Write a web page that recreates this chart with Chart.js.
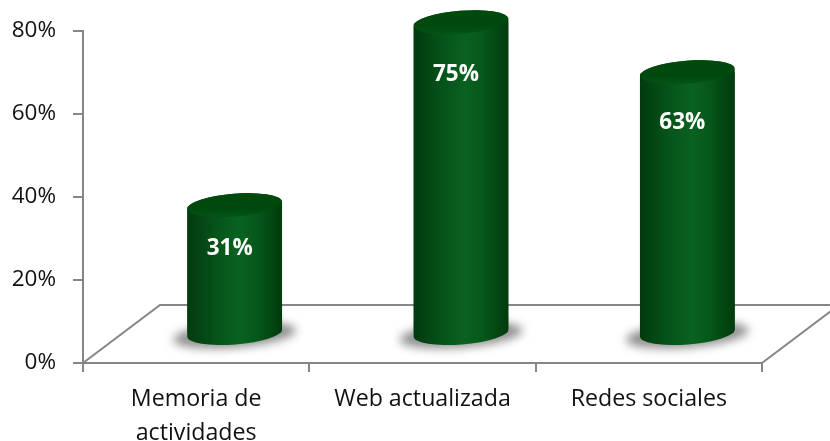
<!DOCTYPE html>
<html><head><meta charset="utf-8">
<style>html,body{margin:0;padding:0;background:#fff}#w{position:absolute;left:0;top:0;width:830px;height:441px}</style>
<script src="https://cdn.jsdelivr.net/npm/chart.js@4"></script></head>
<body><div id="w"><canvas id="c" width="830" height="441"></canvas></div>
<script>
const categories = [["Memoria de","actividades"],"Web actualizada","Redes sociales"];
const values = [31,75,63];
const yTicks = [0,20,40,60,80];
const depthX = 77, depthY = 58;
const axisColor = "#868686";
const fontFamily = "'Open Sans', sans-serif";
const barShare = 0.42;

function sideGradient(ctx, x0, x1){
  const g = ctx.createLinearGradient(x0,0,x1,0);
  g.addColorStop(0,"#013a0e"); g.addColorStop(0.3,"#06531a");
  g.addColorStop(0.55,"#09621f"); g.addColorStop(0.75,"#06561a");
  g.addColorStop(1,"#003a0d");
  return g;
}
const tilt = -4.5*Math.PI/180, ry = 11.5;
function bodyPath(ctx,el){
  const rx=el.width/2;
  ctx.moveTo(el.x-rx*Math.cos(tilt),el.base-rx*Math.sin(tilt));
  ctx.ellipse(el.x,el.base,rx,ry,tilt,Math.PI,0,true);
  ctx.ellipse(el.x,el.y,rx,ry,tilt,0,Math.PI,true);
  ctx.closePath();
}
const cylinder3d = {
  id:"cylinder3d",
  beforeDatasetsDraw(chart){
    const {ctx,scales:{x}} = chart;
    const b=x.top, l=x.left, r=x.right, W=chart.width;
    ctx.save();
    ctx.strokeStyle=axisColor; ctx.lineWidth=2;
    ctx.beginPath();
    ctx.moveTo(l,b); ctx.lineTo(l+depthX,b-depthY); ctx.lineTo(W,b-depthY);
    ctx.moveTo(r,b); ctx.lineTo(r+depthX,b-depthY);
    ctx.stroke();
    ctx.restore();
  },
  beforeDatasetDraw(chart,args){
    const {ctx} = chart;
    const meta = chart.getDatasetMeta(args.index);
    ctx.save();
    ctx.translate(depthX/2,-depthY/2);
    meta.data.forEach(el=>{
      const rx=el.width/2;
      ctx.save();
      ctx.filter="blur(5px)";
      ctx.fillStyle="#8f8f8f";
      ctx.beginPath(); ctx.ellipse(el.x,el.base+2,rx+14,ry+1,tilt,0,Math.PI*2); ctx.fill();
      ctx.restore();
      ctx.fillStyle=sideGradient(ctx,el.x-rx,el.x+rx);
      ctx.beginPath(); bodyPath(ctx,el); ctx.fill();
    });
    ctx.restore();
    ctx.save();
    ctx.translate(depthX/2,-depthY/2);
    ctx.beginPath();
    meta.data.forEach(el=>bodyPath(ctx,el));
    ctx.clip();
  },
  afterDatasetDraw(chart,args){
    const {ctx} = chart;
    ctx.restore();
    const meta = chart.getDatasetMeta(args.index);
    ctx.save();
    ctx.translate(depthX/2,-depthY/2);
    meta.data.forEach((el,i)=>{
      const rx=el.width/2;
      const g=ctx.createLinearGradient(0,el.y-ry,0,el.y+ry);
      g.addColorStop(0,"#004a0d"); g.addColorStop(0.6,"#00480d"); g.addColorStop(1,"#035414");
      ctx.fillStyle=g;
      ctx.beginPath(); ctx.ellipse(el.x,el.y,rx-0.5,ry,tilt,0,Math.PI*2); ctx.fill();
      ctx.fillStyle="#fff";
      ctx.font="bold 22.5px "+fontFamily;
      ctx.textAlign="center"; ctx.textBaseline="middle";
      ctx.fillText(values[i]+"%",el.x-5,el.y+37+0.05*(el.base-el.y));
    });
    ctx.restore();
  }
};
const cv=document.getElementById("c");
new Chart(cv,{
  type:"bar",
  data:{labels:categories,datasets:[{data:values,
    backgroundColor:c=>{
      const s=c.chart.scales.x; const i=c.dataIndex;
      if(!s||i===undefined) return "#09621f";
      const cx=s.getPixelForValue(i), rx=s.width/categories.length*barShare/2;
      if(!isFinite(cx)||!isFinite(rx)) return "#09621f";
      return sideGradient(c.chart.ctx,cx-rx,cx+rx);},
    borderWidth:0,barPercentage:barShare,categoryPercentage:1}]},
  options:{responsive:false,animation:false,
    layout:{padding:{top:30,right:68,bottom:0,left:0}},
    plugins:{legend:{display:false},tooltip:{enabled:false}},
    scales:{
      x:{grid:{drawOnChartArea:false,color:axisColor,tickColor:axisColor,tickLength:9,lineWidth:2},
        border:{color:axisColor,width:2},
        ticks:{color:"#111",font:{family:fontFamily,size:23.2,lineHeight:1.45},maxRotation:0,autoSkip:false,padding:11},
        afterFit(s){s.height=78;}},
      y:{min:0,max:80,
        afterBuildTicks(s){s.ticks=yTicks.map(v=>({value:v}));},
        grid:{drawOnChartArea:false,color:axisColor,tickColor:axisColor,tickLength:10,lineWidth:2},
        border:{color:axisColor,width:2},
        ticks:{color:"#111",font:{family:fontFamily,size:22.5},padding:17,callback:v=>v+"%"},
        afterFit(s){s.width=83;}}
    }},
  plugins:[cylinder3d]
});
</script></body></html>
